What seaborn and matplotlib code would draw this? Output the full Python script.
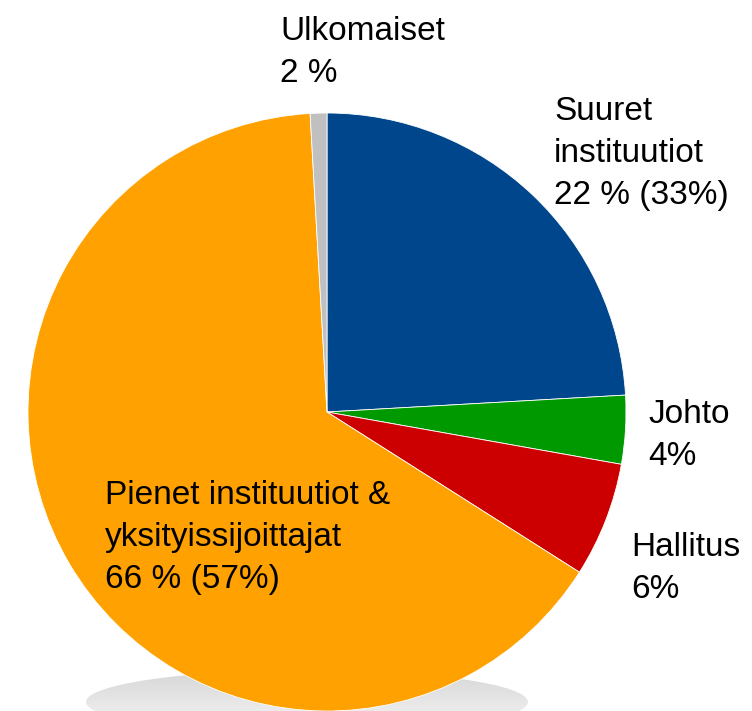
import matplotlib
matplotlib.use('Agg')
import matplotlib.pyplot as plt
import numpy as np
import seaborn as sns
from matplotlib.patches import Ellipse

sns.set_theme(style='white')
plt.rcParams['font.family'] = ['Liberation Sans Narrow', 'Liberation Sans', 'DejaVu Sans']

# slice sizes (clockwise from 12 o'clock)
groups = ['Suuret instituutiot', 'Johto', 'Hallitus',
          'Pienet instituutiot & yksityissijoittajat', 'Ulkomaiset']
shares = [24.1, 3.7, 6.2, 65.1, 0.9]
colors = ['#00468c', '#009900', '#cc0000', '#ffa100', '#c0c0c0']

# label texts
labels = {
    'Ulkomaiset': 'Ulkomaiset\n2 %',
    'Suuret instituutiot': 'Suuret\ninstituutiot\n22 % (33%)',
    'Johto': 'Johto\n4%',
    'Hallitus': 'Hallitus\n6%',
    'Pienet instituutiot & yksityissijoittajat': 'Pienet instituutiot &\nyksityissijoittajat\n66 % (57%)',
}

W, H = 752, 711
fig = plt.figure(figsize=(W / 100, H / 100), dpi=100)
ax = fig.add_axes([0, 0, 1, 1])

cx, cy, r = 327, H - 412, 299

# soft shadow under the pie
shadow = Ellipse((307, H - 702), 442, 64, facecolor='none', edgecolor='none')
ax.add_patch(shadow)
shade = np.linspace(0.84, 0.97, 100)
grad = np.repeat(shade[:, None, None], 3, axis=2)
img = ax.imshow(grad, origin='upper', extent=[86, 528, H - 734, H - 670],
                aspect='auto', zorder=0)
img.set_clip_path(shadow)

ax.pie(shares, colors=colors, startangle=90, counterclock=False,
       center=(cx, cy), radius=r,
       wedgeprops=dict(edgecolor='white', linewidth=0.6))

# (x left, baseline of last line) in pixels from the top
pos = {
    'Ulkomaiset': (280, 82),
    'Suuret instituutiot': (554, 204),
    'Johto': (648, 465),
    'Hallitus': (631, 598),
    'Pienet instituutiot & yksityissijoittajat': (105, 588),
}
for g in groups:
    x, y = pos[g]
    ax.text(x, H - y, labels[g], fontsize=24, color='black', ha='left',
            va='baseline', linespacing=1.45, zorder=5)

ax.set_xlim(0, W)
ax.set_ylim(0, H)
ax.set_aspect('equal')
ax.axis('off')

fig.savefig('out.png', dpi=100)
